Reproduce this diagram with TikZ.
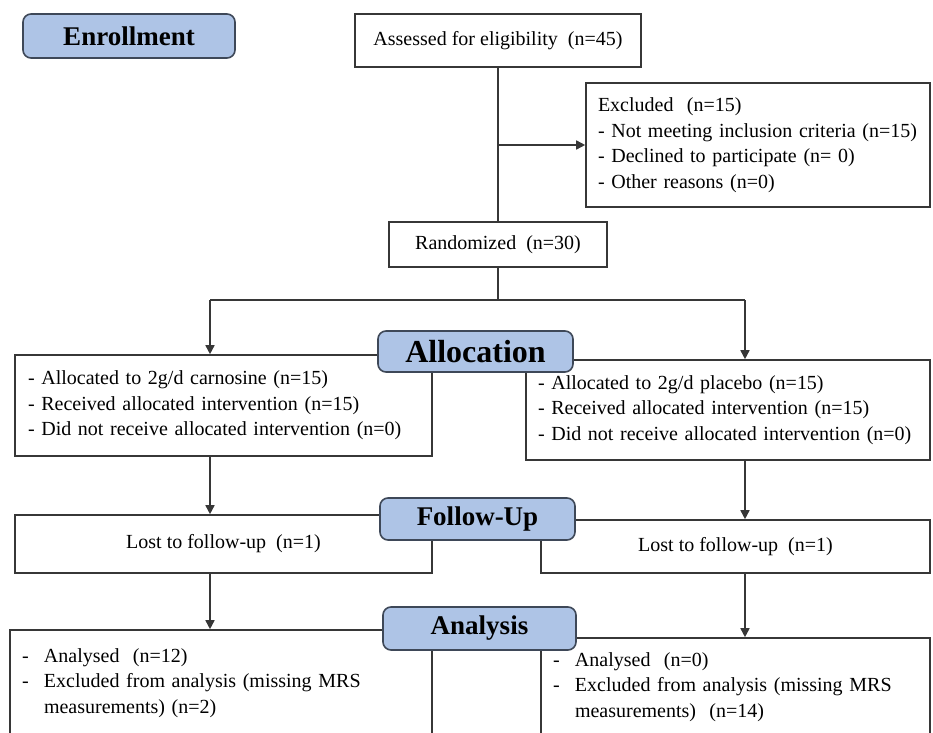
\documentclass[tikz,border=0pt]{standalone}
\usepackage{fontspec}
\setmainfont{Liberation Serif}
\usetikzlibrary{positioning,arrows.meta}
\definecolor{stagefill}{RGB}{174,196,230}
\definecolor{stageline}{RGB}{62,72,88}
\definecolor{boxline}{RGB}{55,55,55}
\newcommand{\dl}{\makebox[11pt][l]{-}}
\newcommand{\ind}{\hspace*{11pt}}

\begin{document}
\begin{tikzpicture}[x=0.5pt,y=-0.5pt,>={Triangle[length=4.5pt,width=4.5pt]},
  box/.style={draw=boxline,line width=0.8pt,inner sep=0pt,font=\fontsize{10}{12.8}\selectfont},
  listbox/.style={box,align=left,inner ysep=0pt},
  stage/.style={draw=stageline,line width=0.8pt,fill=stagefill,rounded corners=4pt,inner sep=0pt,font=\bfseries\fontsize{13.5}{16}\selectfont},
  link/.style={draw=boxline,line width=0.8pt}]
\clip (0,0) rectangle (933,733);
% top part
\node[box,minimum width=143pt,minimum height=26.5pt] (assess) at (498,40.5) {Assessed for eligibility\ \ (n=45)};
\node[listbox,minimum width=172pt,minimum height=62pt,text width=160pt,inner xsep=6pt] (excl) at (758,145)
  {Excluded\ \ (n=15)\\- Not meeting inclusion criteria (n=15)\\- Declined to participate (n= 0)\\- Other reasons (n=0)};
\node[box,minimum width=109pt,minimum height=22.5pt] (rand) at (498,244.5) {Randomized\ \ (n=30)};
% allocation
\node[listbox,minimum width=208.5pt,minimum height=50.5pt,text width=195.5pt,inner xsep=6.5pt] (allocL) at (223.5,405.5)
  {- Allocated to 2g/d carnosine (n=15)\\- Received allocated intervention (n=15)\\- Did not receive allocated intervention (n=0)};
\node[listbox,minimum width=202pt,minimum height=50pt,text width=190pt,inner xsep=6pt] (allocR) at (728,410)
  {- Allocated to 2g/d placebo (n=15)\\- Received allocated intervention (n=15)\\- Did not receive allocated intervention (n=0)};
% follow-up
\node[box,minimum width=208.5pt,minimum height=29pt] (followL) at (223.5,544) {Lost to follow-up\ \ (n=1)};
\node[box,minimum width=194.5pt,minimum height=26.5pt] (followR) at (735.5,546.5) {Lost to follow-up\ \ (n=1)};
% analysis (boxes run off the bottom)
\node[listbox,minimum width=211pt,minimum height=53pt,text width=199pt,inner xsep=6pt] (anaL) at (221,683)
  {\dl Analysed\ \ (n=12)\\\dl Excluded from analysis (missing MRS\\\ind measurements) (n=2)};
\node[listbox,minimum width=194.5pt,minimum height=49pt,text width=182.5pt,inner xsep=6pt] (anaR) at (735.5,687)
  {\dl Analysed\ \ (n=0)\\\dl Excluded from analysis (missing MRS\\\ind measurements)\ \ (n=14)};
% connectors
\coordinate (bx) at (498,145);
\coordinate (split) at (498,300);
\coordinate (sl) at (210,300);
\coordinate (sr) at (745,300);
\draw[link] (assess) -- (rand);
\draw[link,->] (bx) -- (excl);
\draw[link] (rand) -- (split);
\draw[link] (sl) -- (sr);
\draw[link,->] (sl) -- (sl |- allocL.north);
\draw[link,->] (sr) -- (sr |- allocR.north);
\draw[link,->] (sl |- allocL.south) -- (sl |- followL.north);
\draw[link,->] (sr |- allocR.south) -- (sr |- followR.north);
\draw[link,->] (sl |- followL.south) -- (sl |- anaL.north);
\draw[link,->] (sr |- followR.south) -- (sr |- anaR.north);
% stage labels
\node[stage,minimum width=106pt,minimum height=22pt] (enroll) at (129,36) {Enrollment};
\node[stage,minimum width=97.5pt,minimum height=20.5pt,font=\bfseries\fontsize{16}{18}\selectfont] (allocation) at (475.5,351.5) {Allocation};
\node[stage,minimum width=97.5pt,minimum height=21pt] (followup) at (477.5,519) {Follow-Up};
\node[stage,minimum width=96.5pt,minimum height=21.5pt] (analysis) at (479.5,628.5) {Analysis};
\end{tikzpicture}
\end{document}
